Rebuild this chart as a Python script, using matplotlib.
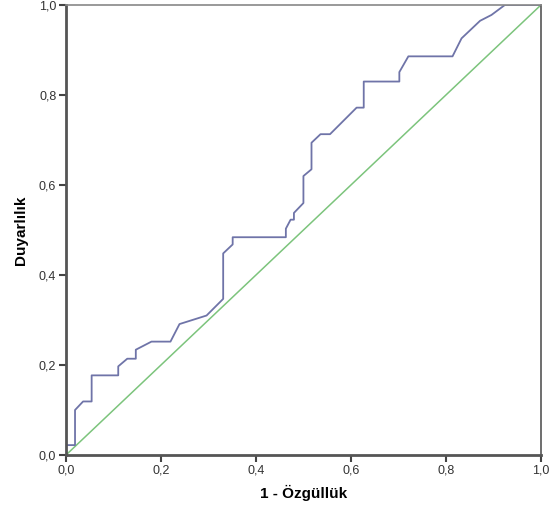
import matplotlib.pyplot as plt
from matplotlib.ticker import FuncFormatter

# ROC curve points (1 - specificity, sensitivity)
fpr = [0.0, 0.0, 0.019, 0.019, 0.036, 0.054, 0.054, 0.110, 0.110, 0.129, 0.147, 0.147,
       0.180, 0.220, 0.239, 0.296, 0.331, 0.331, 0.351, 0.351, 0.463, 0.463, 0.473, 0.473,
       0.480, 0.480, 0.500, 0.500, 0.517, 0.517, 0.536, 0.556, 0.612, 0.627, 0.627, 0.702,
       0.702, 0.721, 0.814, 0.833, 0.872, 0.896, 0.924, 1.0]
tpr = [0.0, 0.022, 0.022, 0.100, 0.119, 0.119, 0.177, 0.177, 0.197, 0.214, 0.214, 0.234,
       0.252, 0.252, 0.291, 0.310, 0.347, 0.448, 0.468, 0.484, 0.484, 0.503, 0.523, 0.523,
       0.523, 0.538, 0.560, 0.620, 0.635, 0.694, 0.713, 0.713, 0.772, 0.772, 0.830, 0.830,
       0.851, 0.886, 0.886, 0.926, 0.965, 0.978, 1.0, 1.0]
ref_line = [0.0, 1.0]
ticks = [0.0, 0.2, 0.4, 0.6, 0.8, 1.0]

plt.rcParams['font.family'] = ['Liberation Sans', 'DejaVu Sans']

fig = plt.figure(figsize=(5.57, 5.05), dpi=100)
ax = fig.add_axes([0.1185, 0.099, 0.8525, 0.891])

ax.plot(ref_line, ref_line, color='#7cc47c', lw=1.1)
ax.plot(fpr, tpr, color='#6f74a8', lw=1.3)

ax.set_xlim(0, 1)
ax.set_ylim(0, 1)
ax.set_xticks(ticks)
ax.set_yticks(ticks)
fmt = FuncFormatter(lambda v, p: f"{v:.1f}".replace('.', ','))
ax.xaxis.set_major_formatter(fmt)
ax.yaxis.set_major_formatter(fmt)
ax.tick_params(direction='out', length=5, width=1.5, color='#444444',
               labelsize=9, labelcolor='#333333', pad=2)

for side in ['left', 'bottom']:
    ax.spines[side].set_linewidth(2)
    ax.spines[side].set_color('#555555')
ax.spines['top'].set_linewidth(1.2)
ax.spines['top'].set_color('#888888')
ax.spines['right'].set_linewidth(1.2)
ax.spines['right'].set_color('#555555')

ax.set_xlabel('1 - Özgüllük', fontsize=11, fontweight='bold', labelpad=6)
ax.set_ylabel('Duyarlılık', fontsize=11, fontweight='bold', labelpad=8)

plt.savefig('out.png', dpi=100)
